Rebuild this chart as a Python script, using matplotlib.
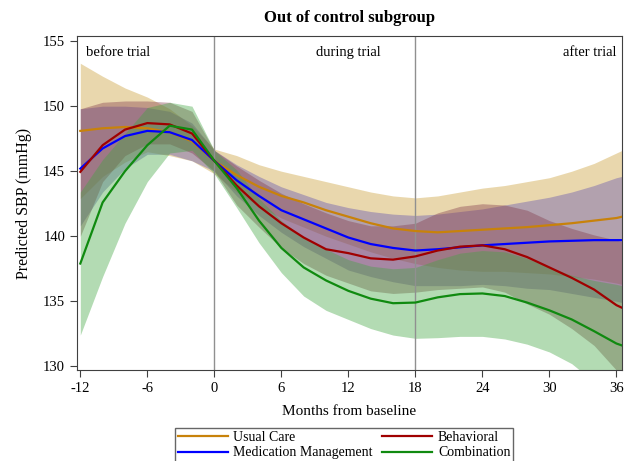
import matplotlib.pyplot as plt
import numpy as np

plt.rcParams['font.family'] = ['Liberation Serif', 'DejaVu Serif']
plt.rcParams['axes.unicode_minus'] = False

# months from baseline
months = [-12, -10, -8, -6, -4, -2, 0, 2, 4, 6, 8, 10, 12, 14, 16, 18,
          20, 22, 24, 26, 28, 30, 32, 34, 36, 36.5]

# predicted SBP and confidence limits per group
usual_mean = [148.1, 148.3, 148.4, 148.3, 148.0, 147.3, 145.8, 144.7, 143.8, 143.1, 142.6, 142.0, 141.5,
              141.0, 140.6, 140.4, 140.3, 140.4, 140.5, 140.6, 140.7, 140.85, 141.0, 141.2, 141.4, 141.5]
usual_lo = [142.9, 144.6, 145.7, 146.5, 146.2, 145.8, 144.8, 143.4, 142.3, 141.4, 140.7, 140.0, 139.4,
            138.8, 138.3, 137.9, 137.6, 137.4, 137.3, 137.3, 137.2, 137.1, 136.9, 136.7, 136.4, 136.3]
usual_hi = [153.3, 152.3, 151.4, 150.7, 149.8, 148.5, 146.7, 146.2, 145.5, 145.0, 144.6, 144.2, 143.8,
            143.4, 143.1, 142.95, 143.1, 143.4, 143.7, 143.9, 144.2, 144.5, 145.0, 145.6, 146.4, 146.6]

med_mean = [145.2, 146.75, 147.7, 148.1, 148.0, 147.4, 145.8, 144.3, 143.1, 142.0, 141.3, 140.6, 139.9,
            139.4, 139.1, 138.9, 139.0, 139.15, 139.3, 139.4, 139.5, 139.6, 139.65, 139.7, 139.7, 139.7]
med_lo = [140.8, 143.4, 145.2, 146.3, 146.3, 145.8, 145.0, 143.1, 141.6, 140.3, 139.2, 138.3, 137.4,
          136.9, 136.5, 136.2, 136.2, 136.2, 136.3, 136.2, 136.0, 135.9, 135.6, 135.3, 135.0, 134.9]
med_hi = [149.8, 150.0, 150.0, 149.9, 149.6, 148.7, 146.6, 145.5, 144.6, 143.8, 143.2, 142.6, 142.2,
          141.9, 141.7, 141.6, 141.7, 141.9, 142.1, 142.4, 142.7, 143.0, 143.4, 143.9, 144.5, 144.6]

beh_mean = [144.95, 147.0, 148.2, 148.7, 148.6, 147.9, 145.8, 143.9, 142.3, 141.0, 139.9, 139.0, 138.7,
            138.3, 138.2, 138.45, 138.9, 139.2, 139.3, 139.0, 138.4, 137.6, 136.8, 135.9, 134.7, 134.5]
beh_lo = [140.0, 144.2, 146.2, 147.1, 147.1, 146.4, 145.0, 142.4, 140.7, 139.1, 137.9, 137.0, 136.4,
          135.8, 135.6, 135.7, 135.9, 136.0, 136.1, 135.7, 134.8, 134.0, 132.9, 131.6, 129.7, 129.3]
beh_hi = [149.8, 150.3, 150.4, 150.4, 150.3, 149.6, 146.6, 145.4, 144.3, 143.3, 142.5, 141.8, 141.2,
          140.8, 140.8, 141.0, 141.8, 142.3, 142.5, 142.4, 142.0, 141.2, 140.6, 140.1, 139.7, 139.6]

comb_mean = [137.9, 142.6, 145.0, 147.0, 148.5, 148.2, 145.8, 143.7, 141.2, 139.1, 137.6, 136.6, 135.8,
             135.2, 134.85, 134.9, 135.3, 135.55, 135.6, 135.4, 134.9, 134.3, 133.6, 132.7, 131.75, 131.6]
comb_lo = [132.4, 136.9, 141.0, 144.2, 146.4, 146.6, 144.8, 142.2, 139.5, 137.2, 135.4, 134.3, 133.6,
           132.9, 132.4, 132.15, 132.2, 132.3, 132.3, 132.1, 131.7, 131.1, 130.2, 128.8, 127.2, 126.8]
comb_hi = [143.4, 145.9, 147.9, 149.9, 150.3, 150.0, 146.6, 145.1, 142.9, 141.2, 139.9, 139.0, 138.2,
           137.7, 137.5, 137.6, 138.2, 138.7, 138.9, 138.8, 138.3, 137.6, 137.0, 136.6, 136.3, 136.2]

groups = ['Usual Care', 'Medication Management', 'Behavioral', 'Combination']
means = [usual_mean, med_mean, beh_mean, comb_mean]
lows = [usual_lo, med_lo, beh_lo, comb_lo]
highs = [usual_hi, med_hi, beh_hi, comb_hi]
line_colors = ['#c8820a', '#0000ff', '#a00000', '#108a10']
band_colors = ['#ca9d32', '#6050b0', '#833c4c', '#41a541']

fig = plt.figure(figsize=(6.36, 4.61), dpi=100)
ax = fig.add_axes([0.121, 0.197, 0.857, 0.725])

for lo, hi, c in zip(lows, highs, band_colors):
    ax.fill_between(months, lo, hi, color=c, alpha=0.4, linewidth=0, zorder=1)

ax.axvline(0, color='#909090', lw=1, zorder=2)
ax.axvline(18, color='#909090', lw=1, zorder=2)

handles = []
for m, c, name in zip(means, line_colors, groups):
    h, = ax.plot(months, m, color=c, lw=1.6, label=name, zorder=3)
    handles.append(h)

ax.set_xlim(-12.3, 36.5)
ax.set_ylim(129.7, 155.4)
ax.set_xticks(np.arange(-12, 37, 6))
ax.set_yticks(np.arange(130, 156, 5))
ax.tick_params(direction='out', length=5, labelsize=10.5, color='#404040')
for s in ax.spines.values():
    s.set_color('#404040')

ax.text(-11.5, 154.6, 'before trial', ha='left', va='top', fontsize=10.5)
ax.text(12, 154.6, 'during trial', ha='center', va='top', fontsize=10.5)
ax.text(36.0, 154.6, 'after trial', ha='right', va='top', fontsize=10.5)

ax.set_title('Out of control subgroup', fontsize=12, fontweight='bold', pad=10)
ax.set_xlabel('Months from baseline', fontsize=11, labelpad=7)
ax.set_ylabel('Predicted SBP (mmHg)', fontsize=11.5, labelpad=8)

fig.legend(handles, groups, ncol=2, loc='upper center', bbox_to_anchor=(0.541, 0.072),
           frameon=True, fancybox=False, edgecolor='#404040', fontsize=10,
           handlelength=3.6, columnspacing=0.7, labelspacing=0.2, borderpad=0.2,
           handletextpad=0.4, borderaxespad=0)

fig.savefig('out.png', dpi=100)
